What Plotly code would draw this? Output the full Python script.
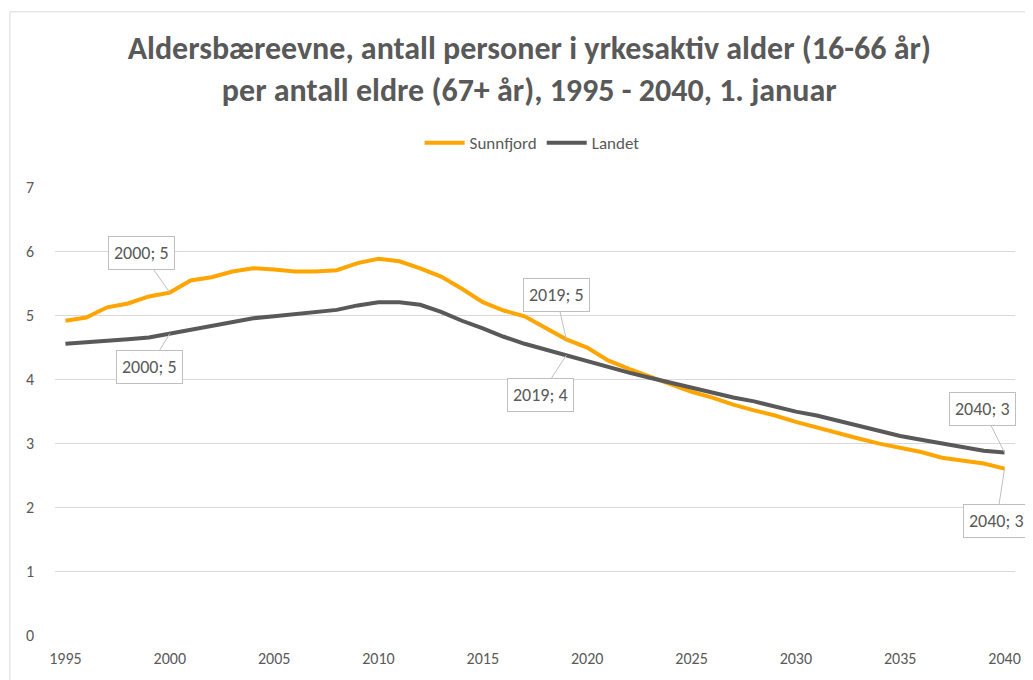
import plotly.graph_objects as go

# ~~~~~~~~~~~~~~~~~~~~~~~~~~~~~~~~~~~~~~~~~~~~~~~~~~~~~~
# Data
years = list(range(1995, 2041))

sunnfjord = [
    4.91, 4.96, 5.12, 5.18, 5.29, 5.35, 5.54, 5.59, 5.68, 5.73,
    5.71, 5.68, 5.68, 5.70, 5.81, 5.88, 5.84, 5.73, 5.60, 5.41,
    5.20, 5.07, 4.98, 4.80, 4.62, 4.49, 4.29, 4.16, 4.04, 3.91,
    3.80, 3.71, 3.60, 3.51, 3.43, 3.33, 3.24, 3.16, 3.07, 2.99,
    2.93, 2.86, 2.77, 2.72, 2.68, 2.60,
]

landet = [
    4.55, 4.57, 4.59, 4.62, 4.65, 4.71, 4.77, 4.84, 4.90, 4.95,
    4.98, 5.01, 5.04, 5.08, 5.15, 5.20, 5.20, 5.16, 5.05, 4.91,
    4.79, 4.66, 4.55, 4.46, 4.37, 4.27, 4.18, 4.10, 4.02, 3.94,
    3.87, 3.79, 3.71, 3.65, 3.57, 3.49, 3.43, 3.35, 3.27, 3.19,
    3.11, 3.05, 2.99, 2.93, 2.88, 2.85,
]

label_years = [2000, 2019, 2040]
x_ticks = list(range(1995, 2041, 5))
y_ticks = list(range(0, 8))

title_text = (
    "Aldersbæreevne, antall personer i yrkesaktiv alder (16-66 år)<br>"
    "per antall eldre (67+ år), 1995 - 2040, 1. januar"
)

ORANGE = "#FFA500"
DARK = "#595959"
TEXT = "#595959"
GRID = "#D9D9D9"
FONT = "Calibri, Carlito, Lato, sans-serif"

# label box offsets (pixels from the data point)
orange_offsets = {2000: (-28, -40), 2019: (-10, -44), 2040: (-8, 52)}
dark_offsets = {2000: (-20, 33), 2019: (-26, 40), 2040: (-22, -44)}

# ~~~~~~~~~~~~~~~~~~~~~~~~~~~~~~~~~~~~~~~~~~~~~~~~~~~~~~
fig = go.Figure()

fig.add_trace(
    go.Scatter(
        x=years,
        y=sunnfjord,
        name="Sunnfjord",
        mode="lines",
        line=dict(color=ORANGE, width=4),
    )
)
fig.add_trace(
    go.Scatter(
        x=years,
        y=landet,
        name="Landet",
        mode="lines",
        line=dict(color=DARK, width=4),
    )
)


def add_labels(fig, values, offsets):
    for yr in label_years:
        v = values[years.index(yr)]
        ax, ay = offsets[yr]
        fig.add_annotation(
            x=yr,
            y=v,
            text=f"{yr}; {round(v)}",
            showarrow=True,
            arrowhead=0,
            arrowwidth=1,
            arrowcolor="#BFBFBF",
            ax=ax,
            ay=ay,
            bgcolor="white",
            bordercolor="#BFBFBF",
            borderwidth=1,
            borderpad=5,
            font=dict(family=FONT, size=18, color=TEXT),
        )


add_labels(fig, sunnfjord, orange_offsets)
add_labels(fig, landet, dark_offsets)

# frame around the chart area (cut at right and bottom like the screenshot)
fig.add_shape(
    type="rect",
    xref="paper",
    yref="paper",
    x0=-0.047,
    x1=1.2,
    y0=-0.3,
    y1=1.391,
    line=dict(color="#D9D9D9", width=1),
    fillcolor="rgba(0,0,0,0)",
    layer="below",
)

# page body adds an 8px offset, so the figure is 8px smaller
fig.update_layout(
    width=1025,
    height=672,
    margin=dict(l=47, r=15, t=179, b=38),
    paper_bgcolor="white",
    plot_bgcolor="white",
    font=dict(family=FONT, color=TEXT),
    title=dict(
        text=title_text,
        x=0.494,
        xanchor="center",
        xref="paper",
        y=0.924,
        yref="container",
        yanchor="middle",
        font=dict(family=FONT, size=32, color=TEXT, weight="bold"),
    ),
    legend=dict(
        orientation="h",
        x=0.497,
        xanchor="center",
        y=1.098,
        yanchor="middle",
        font=dict(family=FONT, size=17, color=TEXT),
        itemwidth=40,
        bgcolor="rgba(0,0,0,0)",
    ),
    xaxis=dict(
        range=[1994.5, 2040.5],
        tickvals=x_ticks,
        showgrid=False,
        zeroline=False,
        showline=False,
        ticks="",
        ticklabelstandoff=12,
        tickfont=dict(family=FONT, size=16, color=TEXT),
    ),
    yaxis=dict(
        range=[0, 7],
        tickvals=y_ticks,
        showgrid=True,
        gridcolor=GRID,
        gridwidth=1,
        zeroline=False,
        showline=False,
        ticks="",
        ticklabelstandoff=20,
        tickfont=dict(family=FONT, size=16, color=TEXT),
    ),
)

fig.write_html("out.html")
